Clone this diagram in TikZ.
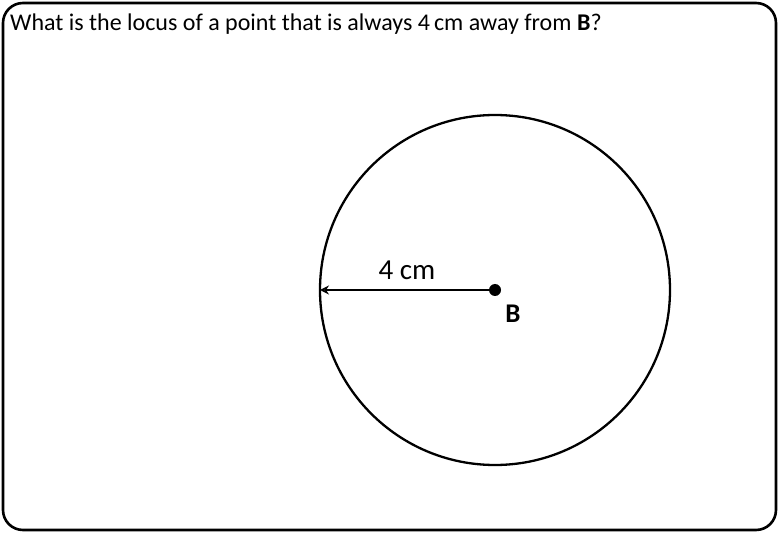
\documentclass[tikz,border=0pt]{standalone}
\usepackage{fontspec}
\setmainfont{Carlito}
\usetikzlibrary{arrows.meta}
\begin{document}
\begin{tikzpicture}[x=1pt,y=-1pt,
  frame/.style={line width=2.6pt,rounded corners=20pt},
  locus/.style={line width=2.3pt},
  radius line/.style={line width=2pt,-{Stealth[length=9pt,width=9pt,open]}}]
  \useasboundingbox (0,0) rectangle (780,540);
  \draw[frame] (3,3) rectangle (776,530);
  \node[anchor=base west,inner sep=0pt,font=\fontsize{24}{28}\selectfont] (question) at (10,31)
    {What is the locus of a point that is always 4\,cm away from \textbf{B}?};
  \coordinate (B) at (495,290);
  \draw[locus] (B) circle[radius=175];
  \coordinate (edge) at (320,290);
  \draw[radius line] (B) -- (edge);
  \fill (B) circle[radius=6];
  \node[font=\fontsize{29}{33}\selectfont,inner sep=0pt] (dist) at (407,270) {4 cm};
  \node[font=\fontsize{27}{31}\selectfont\bfseries,inner sep=0pt] (label) at (513,314) {B};
\end{tikzpicture}
\end{document}
